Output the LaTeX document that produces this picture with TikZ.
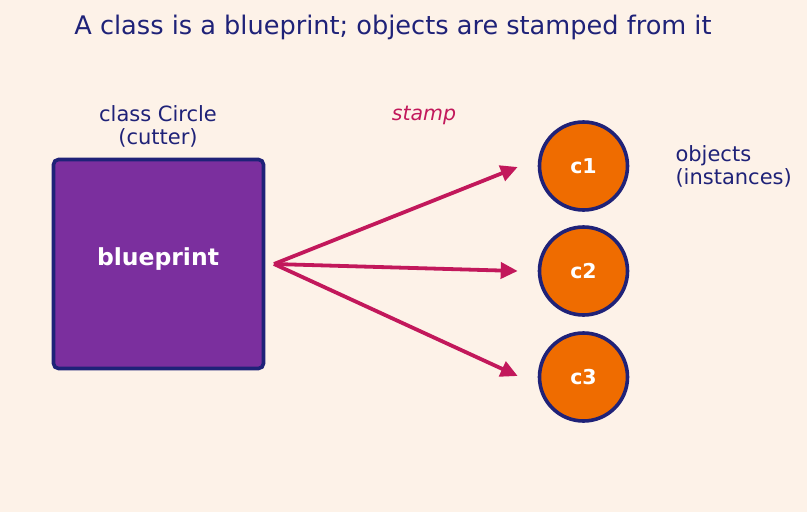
\documentclass[tikz,border=0pt]{standalone}
\usepackage{fontspec}
\setmainfont{DejaVu Sans}
\usepackage{tikz}
\usetikzlibrary{arrows.meta,calc}
\definecolor{paper}{HTML}{FDF2E8}
\definecolor{ink}{HTML}{1F2278}
\definecolor{cutter}{HTML}{7B2F9E}
\definecolor{dough}{HTML}{EF6C00}
\definecolor{press}{HTML}{C2185B}
\newcommand{\rim}{3.6pt}
\newcommand{\cookie}{88pt}
\newcommand{\gap}{20}
\tikzset{
  labeltext/.style={text=ink, font=\fontsize{21}{23}\selectfont, align=center},
  cookienode/.style={circle, draw=ink, line width=\rim, fill=dough, minimum size=\cookie, inner sep=0pt, text=white, font=\bfseries\fontsize{20.5}{23}\selectfont},
  stampline/.style={press, line width=3.8pt, -{Triangle[length=17pt,width=16pt]}}
}

\begin{document}
\begin{tikzpicture}[x=1pt,y=-1pt]
\fill[paper] (0,0) rectangle (807,512);
\useasboundingbox (0,0) rectangle (807,512);
\node[text=ink, font=\fontsize{25.6}{30}\selectfont] (title) at (393,27) {A class is a blueprint; objects are stamped from it};
% the cutter
\node[draw=ink, line width=\rim, fill=cutter, rounded corners=5pt, minimum width=210pt, minimum height=209pt] (blueprint) at (158.5,264) {};
\node[text=white, font=\bfseries\fontsize{23.5}{26}\selectfont] (cuttername) at (158,259) {blueprint};
\node[labeltext] (classname) at (158,126) {class Circle\\(cutter)};
\node[text=press, font=\itshape\fontsize{20.5}{23}\selectfont] (stamp) at (424,115) {stamp};
% the objects
\node[cookienode] (c1) at (583.5,166) {c1};
\node[cookienode] (c2) at (583.5,271) {c2};
\node[cookienode] (c3) at (583.5,377) {c3};
\node[labeltext, align=left, anchor=west] (objects) at (672,166) {objects\\(instances)};
\coordinate (src) at (274,264);
\draw[stampline] (src) -- ($(c1.west)+(-\gap,1)$);
\draw[stampline] (src) -- ($(c2.west)+(-\gap,0)$);
\draw[stampline] (src) -- ($(c3.west)+(-\gap,-1)$);
\end{tikzpicture}
\end{document}
